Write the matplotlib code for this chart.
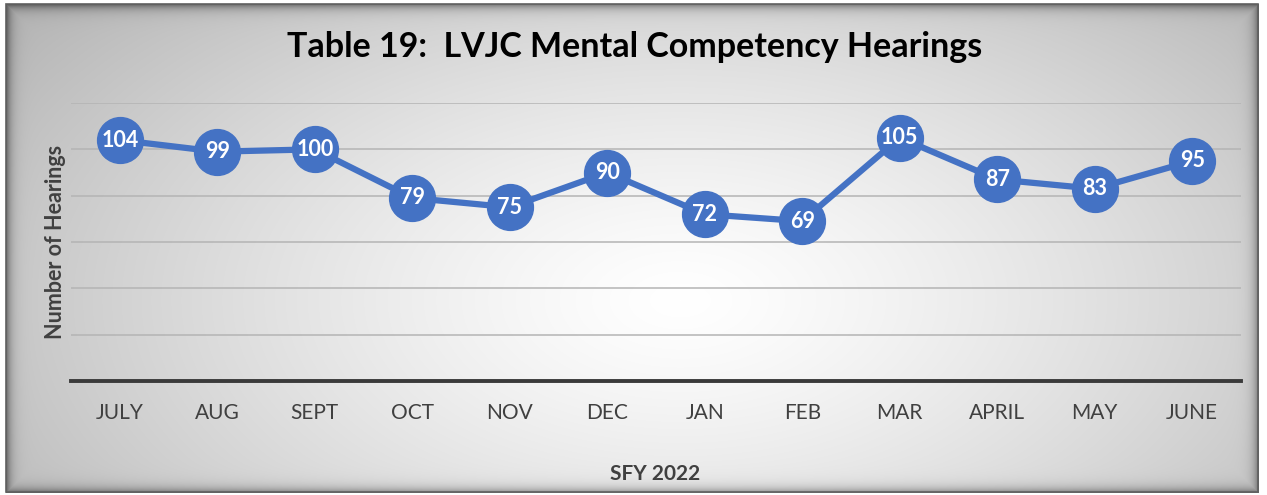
import numpy as np
import matplotlib
matplotlib.use("Agg")
import matplotlib.pyplot as plt
from matplotlib.patches import Rectangle

months = ['JULY', 'AUG', 'SEPT', 'OCT', 'NOV', 'DEC', 'JAN', 'FEB', 'MAR', 'APRIL', 'MAY', 'JUNE']
hearings = [104, 99, 100, 79, 75, 90, 72, 69, 105, 87, 83, 95]

plt.rcParams['font.family'] = ['Lato', 'DejaVu Sans']

W, H = 1267, 495
fig = plt.figure(figsize=(W / 100, H / 100), dpi=100)

# background: radial grey-to-white gradient inside a framed box
bg = fig.add_axes([0, 0, 1, 1], zorder=0)
bg.set_axis_off()
yy, xx = np.mgrid[0:H, 0:W]
r = np.sqrt(((xx - 680) / 720.0) ** 2 + ((yy - 300) / 400.0) ** 2)
shade = 1.0 - 0.24 * np.clip(r, 0, 1.2) ** 1.3
# inner shadow near the frame edges
x0, x1, y0, y1 = 6, 1258, 4, 492
d = np.minimum.reduce([xx - x0, x1 - xx, yy - y0, y1 - yy]).astype(float)
shade = shade - 0.35 * np.exp(-np.clip(d, 0, None) / 5.0)
img = np.dstack([shade] * 3)
outside = (xx < x0) | (xx > x1) | (yy < y0) | (yy > y1)
img[outside] = 1.0
bg.imshow(np.clip(img, 0, 1), extent=[0, W, H, 0], aspect='auto', interpolation='bilinear')
bg.add_patch(Rectangle((x0, y0), x1 - x0, y1 - y0, fill=False, ec='#606060', lw=1.2))
bg.set_xlim(0, W)
bg.set_ylim(H, 0)

ax = fig.add_axes([71 / W, 114 / H, 1170 / W, 278 / H], zorder=1)
ax.patch.set_alpha(0)
x = np.arange(len(months))
ax.plot(x, hearings, color='#4472C4', lw=4.5, marker='o', ms=33, mfc='#4472C4', mec='#4472C4', zorder=3)
for xi, v in zip(x, hearings):
    ax.text(xi, v, str(v), ha='center', va='center', color='white', fontsize=15.5, fontweight='bold', zorder=4)

ax.set_xlim(-0.5, len(months) - 0.5)
ax.set_ylim(0, 120)
ax.set_yticks(range(20, 121, 20))
ax.yaxis.grid(True, color='#b4b4b4', lw=1.1)
ax.set_axisbelow(True)
ax.set_yticklabels([])
ax.tick_params(axis='y', length=0)
ax.set_xticks(x)
ax.set_xticklabels(months, fontsize=15, color='#404040')
ax.tick_params(axis='x', length=0, pad=16)
for s in ['top', 'right', 'left']:
    ax.spines[s].set_visible(False)
ax.spines['bottom'].set_color('#3a3a3a')
ax.spines['bottom'].set_linewidth(2.8)

fig.text(0.501, 0.905, 'Table 19:  LVJC Mental Competency Hearings', ha='center', va='center',
         fontsize=24.5, fontweight='bold', color='black')
fig.text(55 / W, 1 - 242 / H, 'Number of Hearings', rotation=90, ha='center', va='center',
         fontsize=15.5, fontweight='bold', color='#404040')
fig.text(655 / W, 1 - 474 / H, 'SFY 2022', ha='center', va='center',
         fontsize=15, fontweight='bold', color='#404040')

fig.savefig('out.png', dpi=100)
